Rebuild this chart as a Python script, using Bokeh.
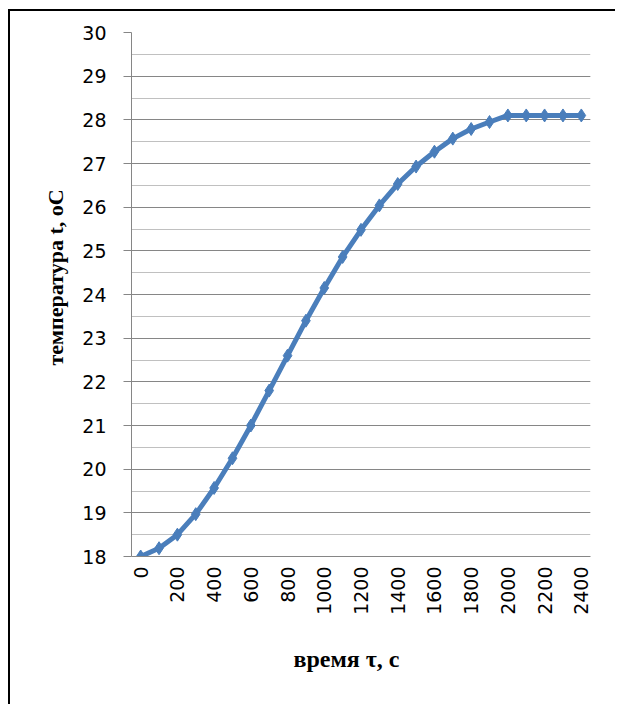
import math
from bokeh.plotting import figure
from bokeh.models import (FixedTicker, SingleIntervalTicker, Range1d, Title, Spacer)
from bokeh.layouts import column, row
from bokeh.embed import file_html
from bokeh.resources import INLINE

# data
times = [0, 100, 200, 300, 400, 500, 600, 700, 800, 900, 1000, 1100, 1200,
         1300, 1400, 1500, 1600, 1700, 1800, 1900, 2000, 2100, 2200, 2300, 2400]
temps = [18.0, 18.19, 18.5, 18.97, 19.57, 20.25, 21.0, 21.8, 22.6, 23.4, 24.15,
         24.86, 25.48, 26.04, 26.53, 26.93, 27.27, 27.57, 27.79, 27.95, 28.1,
         28.1, 28.1, 28.1, 28.1]
x_tick_values = [0, 200, 400, 600, 800, 1000, 1200, 1400, 1600, 1800, 2000, 2200, 2400]
x_title = "время τ, с"
y_title = "температура t, oC"

FW, FH = 459, 524
ML, MR, MT, MB = 121, 25, 21, 148
PW, PH = ML + FW + MR, MT + FH + MB

p = figure(frame_width=FW, frame_height=FH, output_backend="svg",
           toolbar_location=None, min_border_left=ML, min_border_right=MR,
           min_border_top=MT, min_border_bottom=MB,
           x_range=Range1d(-50, 2450), y_range=Range1d(18, 30))
p.outline_line_color = None
p.background_fill_color = "white"
p.border_fill_color = "white"

tick_font = "DejaVu Sans"
# y axis
p.yaxis.ticker = SingleIntervalTicker(interval=1, num_minor_ticks=2)
p.yaxis.axis_line_color = "#868686"
p.yaxis.major_tick_line_color = "#868686"
p.yaxis.major_tick_out = 8
p.yaxis.major_tick_in = 0
p.yaxis.minor_tick_line_color = None
p.yaxis.major_label_standoff = 17
p.yaxis.major_label_text_font = tick_font
p.yaxis.major_label_text_font_size = "19px"
p.yaxis.major_label_text_color = "black"

# x axis
p.xaxis.ticker = FixedTicker(ticks=x_tick_values)
p.xaxis.axis_line_color = "#868686"
p.xaxis.major_tick_line_color = None
p.xaxis.minor_tick_line_color = None
p.xaxis.major_tick_out = 0
p.xaxis.major_tick_in = 0
p.xaxis.major_label_standoff = 10
p.xaxis.major_label_orientation = math.pi / 2
p.xaxis.major_label_text_font = tick_font
p.xaxis.major_label_text_font_size = "19px"
p.xaxis.major_label_text_color = "black"

# grid
p.xgrid.grid_line_color = None
p.ygrid.grid_line_color = "#868686"
p.ygrid.grid_line_width = 1
p.ygrid.minor_grid_line_color = "#c0c0c0"
p.ygrid.minor_grid_line_width = 1

color = "#4A7EBB"
p.line(times, temps, line_color=color, line_width=5)
p.scatter(times, temps, marker="diamond", size=13, fill_color=color,
          line_color=color)

p.add_layout(Title(text=x_title, align="left", offset=162, standoff=52,
                   text_font="Liberation Serif", text_font_style="bold",
                   text_font_size="24px", text_color="black"), "below")
p.add_layout(Title(text=y_title, align="left", offset=191, standoff=23,
                   text_font="Liberation Serif", text_font_style="bold",
                   text_font_size="22px", text_color="black"), "left")

top_border = Spacer(width=PW + 2, height=2, styles={"background-color": "black"})
left_border = Spacer(width=2, height=PH, styles={"background-color": "black"})
boxed = column(top_border, row(left_border, p, spacing=0), spacing=0)
root = column(Spacer(height=9, width=10),
              row(Spacer(width=8, height=10), boxed, spacing=0), spacing=0)
open("out.html", "w").write(file_html(root, INLINE))
